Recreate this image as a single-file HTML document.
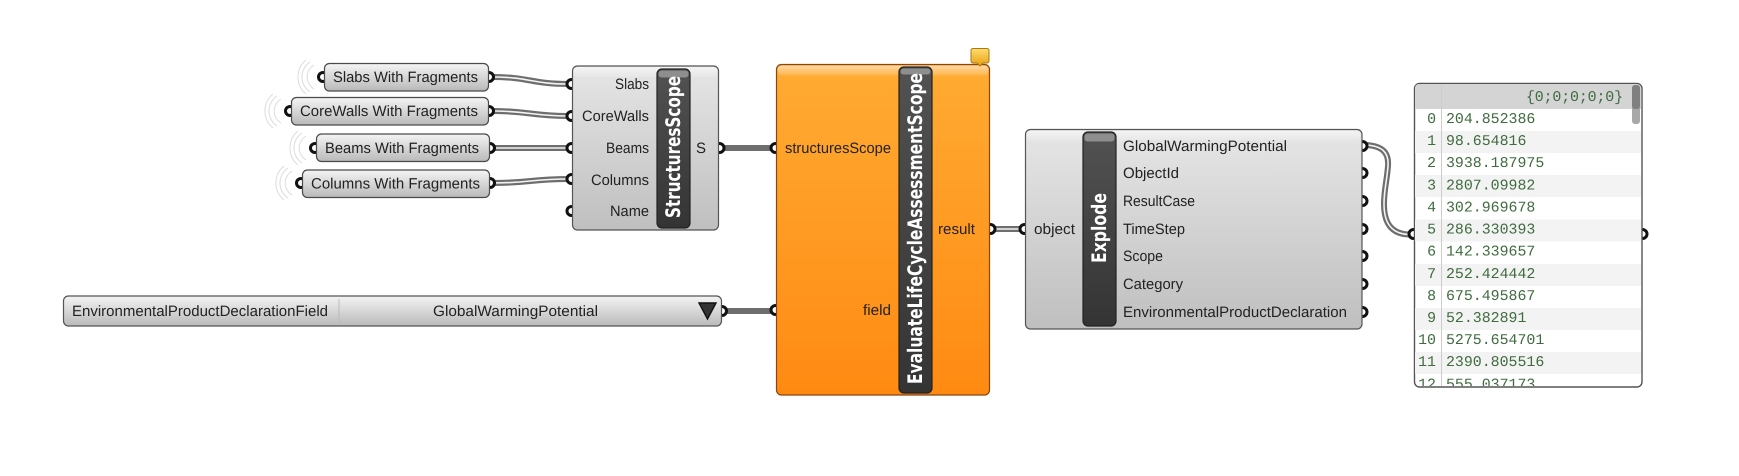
<!DOCTYPE html>
<html><head><meta charset="utf-8"><style>
html,body{margin:0;padding:0;background:#fff;width:1739px;height:476px;overflow:hidden}
svg{display:block}
text{font-family:"Liberation Sans",sans-serif;font-size:15px;fill:#222;text-rendering:geometricPrecision}
.m text{font-family:"Liberation Mono",monospace;font-size:14.9px;fill:#3f6b3f}
.cap{font-family:"DejaVu Sans",sans-serif;font-weight:bold;fill:#fff;font-size:20px}
.g{fill:#fff;stroke:#111;stroke-width:3}
.wo{fill:none;stroke:#6e6e6e;stroke-width:6}
.wi{fill:none;stroke:#f4f4f4;stroke-width:1.6}
.arc{fill:none;stroke:#dcdcdc;stroke-width:1}
</style></head><body>
<svg width="1739" height="476" viewBox="0 0 1739 476" xmlns="http://www.w3.org/2000/svg">
<defs>
<linearGradient id="n" x1="0" y1="0" x2="0" y2="1"><stop offset="0" stop-color="#e6e6e6"/><stop offset="1" stop-color="#bfbfbf"/></linearGradient>
<linearGradient id="s" x1="0" y1="0" x2="0" y2="1"><stop offset="0" stop-color="#f4f4f4"/><stop offset="1" stop-color="#b9b9b9"/></linearGradient>
<linearGradient id="o" x1="0" y1="0" x2="0" y2="1"><stop offset="0" stop-color="#ffab33"/><stop offset="1" stop-color="#ff8a12"/></linearGradient>
<linearGradient id="c" x1="0" y1="0" x2="0" y2="1"><stop offset="0" stop-color="#525252"/><stop offset="1" stop-color="#343434"/></linearGradient>
<linearGradient id="b" x1="0" y1="0" x2="0" y2="1"><stop offset="0" stop-color="#ffdc70"/><stop offset="1" stop-color="#e8a010"/></linearGradient>
<linearGradient id="h" x1="0" y1="0" x2="0" y2="1"><stop offset="0" stop-color="#fff" stop-opacity=".55"/><stop offset="1" stop-color="#fff" stop-opacity=".12"/></linearGradient>
</defs>

<!-- wires -->
<path class="wo" d="M492 77C530 77 531 84 569 84"/><path class="wi" d="M492 77C530 77 531 84 569 84"/>
<path class="wo" d="M492 111C530 111 531 116 569 116"/><path class="wi" d="M492 111C530 111 531 116 569 116"/>
<path class="wo" d="M492 148L569 148"/><path class="wi" d="M492 148L569 148"/>
<path class="wo" d="M492 183C530 183 531 179 569 179"/><path class="wi" d="M492 183C530 183 531 179 569 179"/>
<path class="wo" d="M722 148L772 148"/>
<path class="wo" d="M725 311L772 311"/>
<path class="wo" d="M994 229L1021 229"/><path class="wi" d="M994 229L1021 229"/>
<path class="wo" d="M1366 145C1382 146 1389 152 1388 166C1387 180 1384 190 1384 204C1384 224 1392 234 1409 234.500"/>
<path class="wi" d="M1366 145C1382 146 1389 152 1388 166C1387 180 1384 190 1384 204C1384 224 1392 234 1409 234.500"/>

<!-- slider arcs -->
<path class="arc" d="M314 65A14 14 0 0 0 314 89M310 62A18 18 0 0 0 310 92M306 60A22 22 0 0 0 306 94"/>
<path class="arc" d="M281 99A14 14 0 0 0 281 123M277 96A18 18 0 0 0 277 126M273 94A22 22 0 0 0 273 128"/>
<path class="arc" d="M306 136A14 14 0 0 0 306 160M302 133A18 18 0 0 0 302 163M298 131A22 22 0 0 0 298 165"/>
<path class="arc" d="M292 171A14 14 0 0 0 292 195M288 168A18 18 0 0 0 288 198M284 166A22 22 0 0 0 284 200"/>

<!-- grips -->
<circle class="g" cx="323" cy="77" r="4.500"/><circle class="g" cx="489" cy="77" r="4.500"/>
<circle class="g" cx="290" cy="111" r="4.500"/><circle class="g" cx="489" cy="111" r="4.500"/>
<circle class="g" cx="315" cy="148" r="4.500"/><circle class="g" cx="490" cy="148" r="4.500"/>
<circle class="g" cx="301" cy="183" r="4.500"/><circle class="g" cx="490" cy="183" r="4.500"/>
<circle class="g" cx="571.500" cy="84" r="4.500"/><circle class="g" cx="571.500" cy="116" r="4.500"/><circle class="g" cx="571.500" cy="148" r="4.500"/><circle class="g" cx="571.500" cy="179" r="4.500"/><circle class="g" cx="571.500" cy="211" r="4.500"/>
<circle class="g" cx="719.500" cy="148" r="4.500"/>
<circle class="g" cx="722" cy="311" r="4.500"/>
<circle class="g" cx="775.500" cy="148" r="4.500"/><circle class="g" cx="775.500" cy="310" r="4.500"/>
<circle class="g" cx="990.500" cy="229" r="4.500"/>
<circle class="g" cx="1024.500" cy="229" r="4.500"/>
<circle class="g" cx="1362.500" cy="146" r="4.500"/><circle class="g" cx="1362.500" cy="173" r="4.500"/><circle class="g" cx="1362.500" cy="201" r="4.500"/><circle class="g" cx="1362.500" cy="229" r="4.500"/><circle class="g" cx="1362.500" cy="256" r="4.500"/><circle class="g" cx="1362.500" cy="284" r="4.500"/><circle class="g" cx="1362.500" cy="312" r="4.500"/>
<circle class="g" cx="1413.500" cy="234" r="4.500"/><circle class="g" cx="1642.500" cy="234" r="4.500"/>

<!-- sliders -->
<g stroke="#4a4a4a" stroke-width="1.2" fill="url(#s)">
<rect x="324.500" y="63.500" width="164" height="27.500" rx="5"/>
<rect x="291.500" y="97.500" width="197" height="27.500" rx="5"/>
<rect x="316.500" y="134" width="173" height="27.500" rx="5"/>
<rect x="302.500" y="170" width="187" height="27.500" rx="5"/>
</g>
<text x="333" y="82" textLength="145" lengthAdjust="spacingAndGlyphs">Slabs With Fragments</text>
<text x="300" y="116" textLength="178" lengthAdjust="spacingAndGlyphs">CoreWalls With Fragments</text>
<text x="325" y="153" textLength="154" lengthAdjust="spacingAndGlyphs">Beams With Fragments</text>
<text x="311" y="188.500" textLength="169" lengthAdjust="spacingAndGlyphs">Columns With Fragments</text>

<!-- StructuresScope -->
<rect x="572.500" y="66" width="146" height="164" rx="5" fill="url(#n)" stroke="#555" stroke-width="1.2"/>
<rect x="573.500" y="67" width="144" height="10" rx="4" fill="url(#h)"/>
<rect x="657" y="69" width="33" height="159" rx="5" fill="url(#c)" stroke="#222" stroke-width="1.2"/>
<rect x="658.500" y="70.500" width="30" height="7" rx="3" fill="#8e8e8e"/>
<text class="cap" transform="translate(680,218) rotate(-90)" textLength="142" lengthAdjust="spacingAndGlyphs">StructuresScope</text>
<text x="615" y="89" textLength="34" lengthAdjust="spacingAndGlyphs">Slabs</text>
<text x="582" y="121" textLength="67" lengthAdjust="spacingAndGlyphs">CoreWalls</text>
<text x="606" y="153" textLength="43" lengthAdjust="spacingAndGlyphs">Beams</text>
<text x="591" y="185" textLength="58" lengthAdjust="spacingAndGlyphs">Columns</text>
<text x="610" y="216" textLength="39" lengthAdjust="spacingAndGlyphs">Name</text>
<text x="696" y="153">S</text>

<!-- dropdown -->
<rect x="63.500" y="296" width="658" height="30" rx="5" fill="url(#s)" stroke="#555" stroke-width="1.2"/>
<line x1="339" y1="299" x2="339" y2="323" stroke="#bbb"/>
<text x="72" y="316" textLength="256" lengthAdjust="spacingAndGlyphs">EnvironmentalProductDeclarationField</text>
<text x="433" y="316" textLength="165" lengthAdjust="spacingAndGlyphs">GlobalWarmingPotential</text>
<path d="M699 303L716 303L707.500 319Z" fill="#333" stroke="#111" stroke-width="1.4"/>

<!-- Evaluate -->
<rect x="776.500" y="64.500" width="213" height="330.500" rx="5" fill="url(#o)" stroke="#8a4510" stroke-width="1.2"/>
<rect x="777.500" y="65.500" width="211" height="10" rx="4" fill="url(#h)"/>
<rect x="899" y="67" width="33" height="326" rx="5" fill="url(#c)" stroke="#222" stroke-width="1.2"/>
<rect x="900.500" y="68.500" width="30" height="6" rx="3" fill="#8e8e8e"/>
<text class="cap" transform="translate(922,384) rotate(-90)" textLength="311" lengthAdjust="spacingAndGlyphs">EvaluateLifeCycleAssessmentScope</text>
<text x="785" y="153" textLength="106" lengthAdjust="spacingAndGlyphs">structuresScope</text>
<text x="863" y="315" textLength="28" lengthAdjust="spacingAndGlyphs">field</text>
<text x="938" y="234" textLength="37" lengthAdjust="spacingAndGlyphs">result</text>
<path d="M973 48.500H987A2 2 0 0 1 989 50.500V61A2 2 0 0 1 987 63H983L980 66L977 63H973A2 2 0 0 1 971 61V50.500A2 2 0 0 1 973 48.500Z" fill="url(#b)" stroke="#a87a10" stroke-width="1"/>

<!-- Explode -->
<rect x="1025.500" y="129.500" width="336.500" height="199.500" rx="5" fill="url(#n)" stroke="#555" stroke-width="1.2"/>
<rect x="1026.500" y="130.500" width="334" height="10" rx="4" fill="url(#h)"/>
<rect x="1083" y="132" width="33" height="194" rx="5" fill="url(#c)" stroke="#222" stroke-width="1.2"/>
<rect x="1084.500" y="133.500" width="30" height="8" rx="3" fill="#8e8e8e"/>
<text class="cap" transform="translate(1106,263) rotate(-90)" textLength="70" lengthAdjust="spacingAndGlyphs">Explode</text>
<text x="1034" y="234" textLength="41" lengthAdjust="spacingAndGlyphs">object</text>
<text x="1123" y="151" textLength="164" lengthAdjust="spacingAndGlyphs">GlobalWarmingPotential</text>
<text x="1123" y="178" textLength="56" lengthAdjust="spacingAndGlyphs">ObjectId</text>
<text x="1123" y="206" textLength="72" lengthAdjust="spacingAndGlyphs">ResultCase</text>
<text x="1123" y="234" textLength="62" lengthAdjust="spacingAndGlyphs">TimeStep</text>
<text x="1123" y="261" textLength="40" lengthAdjust="spacingAndGlyphs">Scope</text>
<text x="1123" y="289" textLength="60" lengthAdjust="spacingAndGlyphs">Category</text>
<text x="1123" y="317" textLength="224" lengthAdjust="spacingAndGlyphs">EnvironmentalProductDeclaration</text>

<!-- Panel -->
<clipPath id="pc"><rect x="1415" y="84" width="226" height="302" rx="4"/></clipPath>
<rect x="1414.500" y="83.500" width="227.500" height="303.500" rx="5" fill="#fff" stroke="#555" stroke-width="1.4"/>
<g clip-path="url(#pc)">
<rect x="1415" y="84" width="226" height="25" fill="#d4d4d4"/>
<g fill="#f3f3f3">
<rect x="1415" y="131" width="226" height="22"/>
<rect x="1415" y="175" width="226" height="22"/>
<rect x="1415" y="219.500" width="226" height="22"/>
<rect x="1415" y="264" width="226" height="22"/>
<rect x="1415" y="308" width="226" height="22"/>
<rect x="1415" y="352" width="226" height="22"/>
</g>
<line x1="1441.500" y1="84" x2="1441.500" y2="387" stroke="#ccc"/>
<rect x="1632" y="85" width="8" height="39" rx="3" fill="#a8a8a8"/>
<rect x="1632" y="85" width="8" height="24" rx="3" fill="#808080"/>
<g class="m">
<text x="1526" y="101" textLength="97">{0;0;0;0;0}</text>
<g text-anchor="end">
<text x="1436" y="123">0</text><text x="1436" y="145">1</text><text x="1436" y="167">2</text><text x="1436" y="189.500">3</text><text x="1436" y="211.500">4</text><text x="1436" y="233.500">5</text><text x="1436" y="255.500">6</text><text x="1436" y="278">7</text><text x="1436" y="300">8</text><text x="1436" y="322">9</text><text x="1436" y="344">10</text><text x="1436" y="366">11</text><text x="1436" y="388.500">12</text>
</g>
<text x="1446" y="123">204.852386</text>
<text x="1446" y="145">98.654816</text>
<text x="1446" y="167">3938.187975</text>
<text x="1446" y="189.500">2807.09982</text>
<text x="1446" y="211.500">302.969678</text>
<text x="1446" y="233.500">286.330393</text>
<text x="1446" y="255.500">142.339657</text>
<text x="1446" y="278">252.424442</text>
<text x="1446" y="300">675.495867</text>
<text x="1446" y="322">52.382891</text>
<text x="1446" y="344">5275.654701</text>
<text x="1446" y="366">2390.805516</text>
<text x="1446" y="388.500">555.037173</text>
</g>
</g>
</svg>
</body></html>
